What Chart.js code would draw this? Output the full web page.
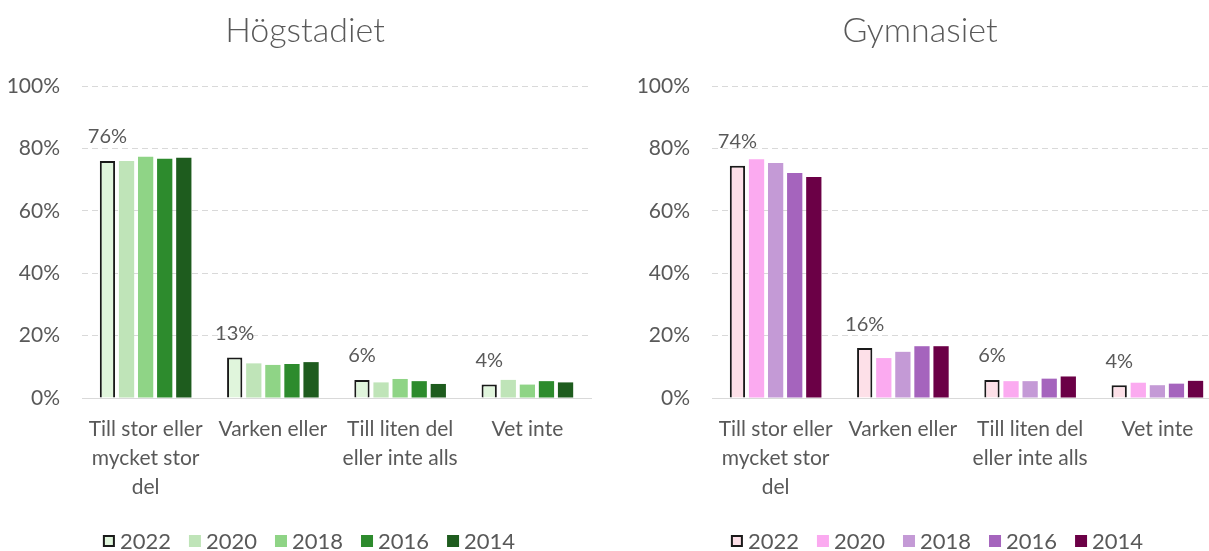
<!DOCTYPE html>
<html>
<head>
<meta charset="utf-8">
<script src="https://cdn.jsdelivr.net/npm/chart.js@4"></script>
<style>
html, body { margin: 0; padding: 0; background: #fff; overflow: hidden; width: 1209px; height: 551px; }
.box { position: absolute; top: 0; height: 551px; }
#left { left: 0; width: 600px; }
#right { left: 620px; width: 601px; }
</style>
</head>
<body>
<div class="box" id="left"><canvas id="hog"></canvas></div>
<div class="box" id="right"><canvas id="gym"></canvas></div>
<script>
// categories and series
const categories = [['Till stor eller', 'mycket stor', 'del'], 'Varken eller', ['Till liten del', 'eller inte alls'], 'Vet inte'];
const years = ['2022', '2020', '2018', '2016', '2014'];
const yTicks = [0, 20, 40, 60, 80, 100];

// Högstadiet
const hog2022 = [76.0, 13.0, 5.8, 4.3];
const hog2020 = [76.0, 11.1, 5.0, 5.8];
const hog2018 = [77.3, 10.6, 6.1, 4.3];
const hog2016 = [76.7, 10.9, 5.4, 5.4];
const hog2014 = [77.0, 11.5, 4.5, 5.0];
const greens = ['#e0f5dc', '#bfe4b8', '#8fd486', '#2d8b2d', '#1e5c1e'];

// Gymnasiet
const gym2022 = [74.4, 16.0, 5.8, 4.1];
const gym2020 = [76.5, 12.8, 5.4, 4.9];
const gym2018 = [75.3, 14.8, 5.4, 4.1];
const gym2016 = [72.1, 16.6, 6.2, 4.6];
const gym2014 = [70.8, 16.6, 6.9, 5.5];
const pinks = ['#fde0e8', '#fbaaf0', '#c49ad6', '#a564bd', '#6b0046'];

const textColor = '#595959';
const fontFamily = 'Lato, "Open Sans", sans-serif';

// title, value labels on 2022 bars and legend
const decor = {
    id: 'decor',
    afterDraw(chart, args, opts) {
        const ctx = chart.ctx;
        ctx.save();
        ctx.fillStyle = textColor;

        // labels above the first series
        const meta = chart.getDatasetMeta(0);
        ctx.font = '20px ' + fontFamily;
        ctx.textAlign = 'center';
        ctx.textBaseline = 'bottom';
        meta.data.forEach((bar, i) => {
            const v = chart.data.datasets[0].data[i];
            ctx.fillText(Math.round(v) + '%', bar.x, bar.y - 14);
        });

        // title
        ctx.font = '300 34px ' + fontFamily;
        ctx.textBaseline = 'middle';
        ctx.fillText(opts.title, opts.titleX, 31);

        // legend
        ctx.font = '22px ' + fontFamily;
        const box = 12, gap = 5, spacing = 18;
        const items = chart.data.datasets.map(ds => ({
            ds, w: box + gap + ctx.measureText(ds.label).width
        }));
        const total = items.reduce((a, it) => a + it.w, 0) + spacing * (items.length - 1);
        let x = opts.legendX - total / 2;
        const y = 541;
        ctx.textAlign = 'left';
        items.forEach(it => {
            ctx.fillStyle = it.ds.backgroundColor;
            ctx.fillRect(x, y - box / 2, box, box);
            if (it.ds.borderWidth) {
                ctx.strokeStyle = it.ds.borderColor;
                ctx.lineWidth = 2;
                ctx.strokeRect(x + 1, y - box / 2 + 1, box - 2, box - 2);
            }
            ctx.fillStyle = textColor;
            ctx.fillText(it.ds.label, x + box + gap, y + 1);
            x += it.w + spacing;
        });
        ctx.restore();
    }
};

function makeChart(id, series, colors, title, titleX, legendX, yWidth, padRight) {
    const ctx = document.getElementById(id).getContext('2d');
    return new Chart(ctx, {
        type: 'bar',
        data: {
            labels: categories,
            datasets: series.map((data, i) => ({
                label: years[i],
                data: data,
                backgroundColor: colors[i],
                borderColor: i === 0 ? '#1a1a1a' : colors[i],
                borderWidth: i === 0 ? 2 : 0,
                categoryPercentage: 0.75,
                barPercentage: 0.8
            }))
        },
        options: {
            responsive: true,
            maintainAspectRatio: false,
            animation: false,
            layout: {
                padding: { top: 86, bottom: 49, left: 0, right: padRight }
            },
            scales: {
                x: {
                    grid: { display: false },
                    border: { display: true, color: '#d9d9d9', width: 1 },
                    ticks: {
                        color: textColor,
                        font: { family: fontFamily, size: 21, lineHeight: 1.38 },
                        padding: 9,
                        maxRotation: 0,
                        autoSkip: false
                    },
                    afterFit: s => { s.height = 104; }
                },
                y: {
                    min: 0,
                    max: 100,
                    afterBuildTicks: s => { s.ticks = yTicks.map(v => ({ value: v })); },
                    grid: {
                        drawTicks: false,
                        color: c => c.tick && c.tick.value === 0 ? 'rgba(0,0,0,0)' : '#d9d9d9',
                        lineWidth: 1
                    },
                    border: { display: false, dash: [6, 4] },
                    ticks: {
                        color: textColor,
                        font: { family: fontFamily, size: 21 },
                        padding: 22,
                        callback: v => v + '%'
                    },
                    afterFit: s => { s.width = yWidth; }
                }
            },
            plugins: {
                legend: { display: false },
                tooltip: { enabled: false },
                decor: { title: title, titleX: titleX, legendX: legendX }
            }
        },
        plugins: [decor]
    });
}

makeChart('hog', [hog2022, hog2020, hog2018, hog2016, hog2014], greens, 'Högstadiet', 305, 309, 82, 9);
makeChart('gym', [gym2022, gym2020, gym2018, gym2016, gym2014], pinks, 'Gymnasiet', 300, 317, 92, 0);
</script>
</body>
</html>
